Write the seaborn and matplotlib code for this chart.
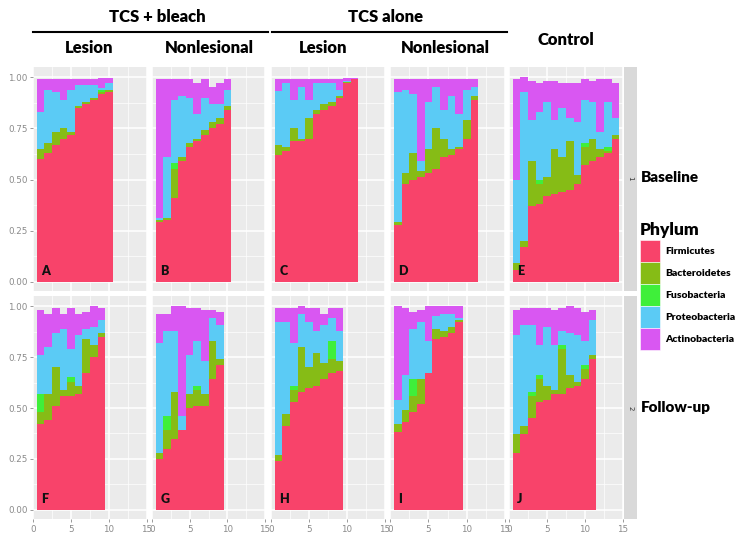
import numpy as np
import pandas as pd
import matplotlib
matplotlib.use("Agg")
import matplotlib.pyplot as plt
import seaborn as sns
from matplotlib.patches import Rectangle
from matplotlib.lines import Line2D
from matplotlib.ticker import FixedLocator

# ---------------- data (relative abundance per sample) ----------------
PHYLA = ["Firmicutes", "Bacteroidetes", "Fusobacteria", "Proteobacteria", "Actinobacteria"]
PHYLUM_COLORS = ["#F8436A", "#86BC16", "#3FEF3A", "#5BCBF5", "#D957F2"]

# A: TCS + bleach, Lesion, Baseline
firm_A = [.60, .63, .67, .70, .72, .85, .87, .89, .92, .93]
bact_A = [.05, .05, .06, .05, .01, .01, .01, .01, .01, .01]
fuso_A = [0, 0, 0, 0, 0, 0, 0, 0, .01, 0]
prot_A = [.18, .26, .20, .14, .21, .10, .08, .06, .005, .03]
acti_A = [.16, .05, .06, .10, .05, .03, .03, .03, .05, .025]
# B: TCS + bleach, Nonlesional, Baseline
firm_B = [.29, .30, .41, .59, .66, .69, .72, .75, .77, .84]
bact_B = [.01, .01, .14, .02, .02, .01, .02, .03, .03, .02]
fuso_B = [0, 0, .03, 0, 0, 0, 0, 0, 0, 0]
prot_B = [.01, .30, .31, .30, .22, .12, .16, .09, .07, .08]
acti_B = [.68, .38, .10, .08, .09, .15, .09, .08, .10, .05]
# C: TCS alone, Lesion, Baseline
firm_C = [.62, .64, .69, .69, .70, .82, .84, .86, .90, .97, .99]
bact_C = [.05, .02, .06, .01, .10, .02, .03, .02, .01, .005, 0]
fuso_C = [0, 0, 0, 0, 0, 0, 0, 0, 0, 0, 0]
prot_C = [.265, .31, .14, .25, .09, .13, .10, .09, .03, .005, 0]
acti_C = [.055, .02, .10, .04, .10, .02, .02, .02, .05, .015, .005]
# D: TCS alone, Nonlesional, Baseline
firm_D = [.28, .48, .50, .51, .53, .55, .61, .62, .65, .70, .89]
bact_D = [.01, .05, .13, .03, .12, .20, .09, .03, .01, .09, .02]
fuso_D = [0, 0, 0, 0, 0, 0, 0, 0, 0, 0, 0]
prot_D = [.64, .41, .29, .05, .23, .20, .14, .26, .16, .15, .04]
acti_D = [.06, .05, .07, .40, .11, .04, .15, .08, .17, .05, .04]
# E: Control, Baseline
firm_E = [.06, .17, .37, .38, .42, .43, .44, .45, .48, .57, .59, .61, .63, .70]
bact_E = [.03, .03, .22, .10, .09, .22, .17, .24, .04, .09, .11, .04, .01, .02]
fuso_E = [0, 0, 0, .02, 0, 0, 0, 0, 0, .02, 0, 0, .02, 0]
prot_E = [.41, .73, .20, .33, .37, .14, .24, .11, .26, .21, .18, .08, .22, .08]
acti_E = [.49, .07, .19, .14, .10, .19, .12, .17, .19, .10, .10, .26, .11, .17]
# F: TCS + bleach, Lesion, Follow-up
firm_F = [.42, .44, .51, .56, .56, .57, .67, .75, .85]
bact_F = [.06, .13, .19, .03, .07, .04, .17, .06, .02]
fuso_F = [.09, 0, 0, 0, .02, 0, 0, 0, 0]
prot_F = [.19, .23, .17, .30, .14, .25, .05, .09, .06]
acti_F = [.22, .16, .12, .07, .20, .10, .08, .10, .06]
# G: TCS + bleach, Nonlesional, Follow-up
firm_G = [.25, .30, .35, .39, .50, .51, .51, .64, .71]
bact_G = [.03, .09, .23, 0, .07, .08, .06, .19, .03]
fuso_G = [0, .07, 0, 0, 0, .02, 0, 0, 0]
prot_G = [.54, .42, .30, .07, .19, .22, .16, .11, .17]
acti_G = [.14, .08, .12, .54, .23, .16, .25, .04, .06]
# H: TCS alone, Lesion, Follow-up
firm_H = [.24, .41, .53, .58, .60, .61, .64, .67, .68]
bact_H = [.03, .06, .06, .22, .10, .16, .08, .07, .05]
fuso_H = [0, 0, .02, 0, 0, 0, 0, .09, 0]
prot_H = [.65, .45, .21, .16, .22, .11, .19, .11, .15]
acti_H = [.07, .07, .17, .04, .07, .11, .05, .05, .11]
# I: TCS alone, Nonlesional, Follow-up
firm_I = [.38, .43, .48, .52, .67, .84, .85, .87, .92]
bact_I = [.04, .06, .08, .12, 0, .05, .03, .03, .01]
fuso_I = [0, 0, .08, 0, 0, 0, 0, 0, 0]
prot_I = [.12, .17, .25, .28, .16, .06, .08, .06, .01]
acti_I = [.46, .33, .08, .06, .17, .05, .04, .04, .06]
# J: Control, Follow-up
firm_J = [.28, .37, .45, .53, .54, .57, .57, .60, .61, .64, .74]
bact_J = [.09, .04, .11, .11, .07, .02, .22, .06, .02, .05, .02]
fuso_J = [0, 0, .02, .02, 0, 0, .02, 0, 0, .02, 0]
prot_J = [.49, .50, .33, .15, .29, .22, .07, .21, .23, .12, .17]
acti_J = [.12, .08, .08, .18, .09, .17, .11, .13, .13, .14, .05]

PANELS = [
    ("A", 0, 0, [firm_A, bact_A, fuso_A, prot_A, acti_A]),
    ("B", 0, 1, [firm_B, bact_B, fuso_B, prot_B, acti_B]),
    ("C", 0, 2, [firm_C, bact_C, fuso_C, prot_C, acti_C]),
    ("D", 0, 3, [firm_D, bact_D, fuso_D, prot_D, acti_D]),
    ("E", 0, 4, [firm_E, bact_E, fuso_E, prot_E, acti_E]),
    ("F", 1, 0, [firm_F, bact_F, fuso_F, prot_F, acti_F]),
    ("G", 1, 1, [firm_G, bact_G, fuso_G, prot_G, acti_G]),
    ("H", 1, 2, [firm_H, bact_H, fuso_H, prot_H, acti_H]),
    ("I", 1, 3, [firm_I, bact_I, fuso_I, prot_I, acti_I]),
    ("J", 1, 4, [firm_J, bact_J, fuso_J, prot_J, acti_J]),
]

Y_TICKS = [0.0, 0.25, 0.5, 0.75, 1.0]
Y_TICK_LABELS = ["0.00", "0.25", "0.50", "0.75", "1.00"]
X_TICKS = [0, 5, 10, 15]
X_TICK_LABELS = ["0", "5", "10", "15"]

# ---------------- layout (pixels) ----------------
W, H = 754, 543
COLS = [(33, 147), (152, 265), (271, 385), (390, 505), (509, 623)]
ROWS = [(67, 291), (296, 519)]

def rect(l, t, r, b):
    return [l / W, 1 - b / H, (r - l) / W, (b - t) / H]

BOLD = ["Lato", "DejaVu Sans"]
HEAVY = "heavy"
fig = plt.figure(figsize=(W / 100, H / 100), dpi=100)
fig.patch.set_facecolor("white")

for letter, r, c, series in PANELS:
    l, rr = COLS[c]
    t, b = ROWS[r]
    ax = fig.add_axes(rect(l, t, rr, b))
    rows = []
    for p, vals in zip(PHYLA, series):
        for i, v in enumerate(vals):
            rows.append({"sample": i + 1, "phylum": p, "value": v})
    df = pd.DataFrame(rows)
    df["phylum"] = pd.Categorical(df["phylum"], PHYLA, ordered=True)
    df = df.sort_values(["sample", "phylum"])
    df["cum"] = df.groupby("sample")["value"].cumsum()
    # draw from the top layer down so each lower cumulative bar covers the rest
    for p, col in reversed(list(zip(PHYLA, PHYLUM_COLORS))):
        sub = df[df["phylum"] == p]
        sns.barplot(data=sub, x="sample", y="cum", native_scale=True, orient="x",
                    width=1, color=col, saturation=1, linewidth=0,
                    errorbar=None, ax=ax, zorder=2)
    ax.set_facecolor("#EBEBEB")
    ax.set_xlim(0, 15)
    ax.set_ylim(-0.045, 1.05)
    ax.xaxis.set_major_locator(FixedLocator(X_TICKS))
    ax.xaxis.set_minor_locator(FixedLocator([2.5, 7.5, 12.5]))
    ax.yaxis.set_major_locator(FixedLocator(Y_TICKS))
    ax.yaxis.set_minor_locator(FixedLocator([0.125, 0.375, 0.625, 0.875]))
    ax.grid(which="major", color="white", linewidth=1.1, zorder=0)
    ax.grid(which="minor", color="white", linewidth=0.5, zorder=0)
    ax.set_axisbelow(True)
    for s in ax.spines.values():
        s.set_visible(False)
    ax.set_xlabel("")
    ax.set_ylabel("")
    ax.tick_params(which="minor", length=0)
    ax.tick_params(which="major", length=2.5, width=0.6, color="#8a8a8a",
                   labelsize=6.3, labelcolor="#8a8a8a", pad=1.5)
    if c == 0:
        ax.set_yticklabels(Y_TICK_LABELS)
    else:
        ax.tick_params(axis="y", length=0, labelleft=False)
    if r == 1:
        ax.set_xticklabels(X_TICK_LABELS)
    else:
        ax.tick_params(axis="x", length=0, labelbottom=False)
    ax.text(1.1, 0.055, letter, fontsize=9, fontweight=HEAVY, family=BOLD,
            ha="left", va="center", color="#111111", zorder=5)

# right strips
for (t, b), lab, name, ny in zip(ROWS, ["1", "2"], ["Baseline", "Follow-up"], [178, 408]):
    fig.patches.append(Rectangle((624 / W, 1 - b / H), 13 / W, (b - t) / H,
                                 transform=fig.transFigure, facecolor="#D9D9D9",
                                 edgecolor="none"))
    fig.text(630.5 / W, 1 - ny / H, lab, fontsize=5, rotation=-90, color="#333333",
             ha="center", va="center")
    fig.text(641 / W, 1 - ny / H, name, fontsize=11, fontweight=HEAVY, family=BOLD,
             ha="left", va="center", color="black")

# headers
def ftext(x, y, s, size, **kw):
    fig.text(x / W, 1 - y / H, s, fontsize=size, fontweight=HEAVY, family=BOLD,
             ha="center", va="center", color="black", **kw)

ftext(157, 17, "TCS + bleach", 12)
ftext(385, 17, "TCS alone", 12)
ftext(89, 48, "Lesion", 12)
ftext(209, 48, "Nonlesional", 12)
ftext(323, 48, "Lesion", 12)
ftext(445, 48, "Nonlesional", 12)
ftext(566, 40, "Control", 12)
for x0, x1 in [(33, 268), (272, 507)]:
    fig.add_artist(Line2D([x0 / W, x1 / W], [1 - 32 / H, 1 - 32 / H],
                          transform=fig.transFigure, color="black", linewidth=1.5))

# legend
fig.text(640 / W, 1 - 230 / H, "Phylum", fontsize=12.5, fontweight=HEAVY, family=BOLD,
         ha="left", va="center", color="black")
key_top = 240
key_h = 22
for i, (p, col) in enumerate(zip(PHYLA, PHYLUM_COLORS)):
    y0 = key_top + i * key_h
    fig.patches.append(Rectangle((640 / W, 1 - (y0 + key_h) / H), 20 / W, key_h / H,
                                 transform=fig.transFigure, facecolor=col,
                                 edgecolor="white", linewidth=0.4))
    fig.text(665 / W, 1 - (y0 + key_h / 2) / H, p, fontsize=7.5, fontweight=HEAVY,
             family=BOLD, ha="left", va="center", color="black")

fig.savefig("out.png", dpi=100)
